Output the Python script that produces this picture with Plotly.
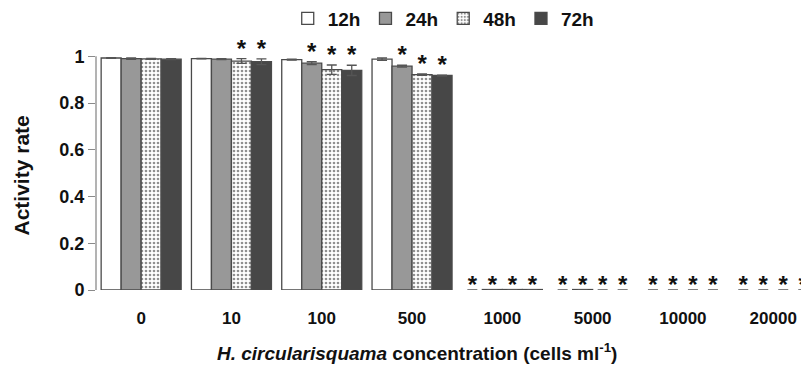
import plotly.graph_objects as go

categories = ["0", "10", "100", "500", "1000", "5000", "10000", "20000"]
series = ["12h", "24h", "48h", "72h"]

v12 = [0.993, 0.990, 0.986, 0.988, 0.0, 0.0, 0.0, 0.0]
v24 = [0.990, 0.988, 0.971, 0.958, 0.002, 0.002, 0.0, 0.0]
v48 = [0.989, 0.980, 0.943, 0.922, 0.002, 0.0, 0.0, 0.0]
v72 = [0.988, 0.977, 0.940, 0.918, 0.002, 0.0, 0.0, 0.0]

e12 = [0.002, 0.001, 0.002, 0.005, 0, 0, 0, 0]
e24 = [0.003, 0.002, 0.006, 0.004, 0, 0, 0, 0]
e48 = [0.002, 0.010, 0.020, 0.003, 0, 0, 0, 0]
e72 = [0.002, 0.012, 0.022, 0.002, 0, 0, 0, 0]

sig12 = [0, 0, 0, 0, 1, 1, 1, 1]
sig24 = [0, 0, 1, 1, 1, 1, 1, 1]
sig48 = [0, 1, 1, 1, 1, 1, 1, 1]
sig72 = [0, 1, 1, 1, 1, 1, 1, 1]

yticks = [0, 0.2, 0.4, 0.6, 0.8, 1]
ytick_labels = ["0", "0.2", "0.4", "0.6", "0.8", "1"]

values = [v12, v24, v48, v72]
errors = [e12, e24, e48, e72]
sigs = [sig12, sig24, sig48, sig72]

FONT = "Liberation Sans, Arial, sans-serif"
INK = "#111111"
fills = ["#ffffff", "#989898", "#ffffff", "#474747"]

fig = go.Figure()
for i, name in enumerate(series):
    edge = ["#4a4a4a" if v > 0 else "rgba(0,0,0,0)" for v in values[i]]
    marker = dict(color=fills[i], line=dict(color=edge, width=1.3))
    if name == "48h":
        marker["pattern"] = dict(shape=".", fgcolor="#222222", bgcolor="#ffffff",
                                 size=4, solidity=0.35)
    fig.add_trace(go.Bar(
        x=categories, y=values[i], name="<b>%s</b>" % name, offsetgroup=str(i),
        alignmentgroup="a", marker=marker, cliponaxis=False,
        error_y=dict(type="data", array=errors[i], color="#555555",
                     thickness=1.3, width=5),
    ))

for i, name in enumerate(series):
    xs, ys = [], []
    for c, v, e, s in zip(categories, values[i], errors[i], sigs[i]):
        if s:
            xs.append(c)
            ys.append(v + e + (0.035 if v > 0.5 else 0.012))
    fig.add_trace(go.Scatter(
        x=xs, y=ys, mode="text", text=["<b>*</b>"] * len(xs),
        textposition="middle center",
        offsetgroup=str(i), alignmentgroup="a", showlegend=False,
        cliponaxis=False, hoverinfo="skip",
        textfont=dict(family=FONT, size=24, color=INK),
    ))

# page body has an 8px margin, so the figure is drawn 8px in from the window corner
fig.update_layout(
    width=801, height=364,
    margin=dict(l=88, r=0, t=25, b=82, autoexpand=False),
    paper_bgcolor="white", plot_bgcolor="white",
    barmode="group", bargap=0.114, bargroupgap=0,
    scattermode="group", scattergap=0.114,
    font=dict(family=FONT, color=INK),
    showlegend=True,
    legend=dict(orientation="h", x=0.487, xanchor="center", y=1.056, yanchor="middle",
                yref="paper", font=dict(family=FONT, size=19, color=INK),
                itemwidth=30, traceorder="normal", borderwidth=0,
                bgcolor="rgba(0,0,0,0)"),
    shapes=[dict(type="line", xref="paper", yref="y", x0=0, x1=0, y0=0, y1=1,
                 line=dict(color="#8a8a8a", width=1.3))],
    annotations=[
        dict(text="<b>Activity rate</b>", textangle=-90, xref="paper", yref="paper",
             x=-0.104, y=0.445, xanchor="center", yanchor="middle", showarrow=False,
             font=dict(family=FONT, size=21, color=INK)),
        dict(text="<b><i>H. circularisquama</i> concentration (cells ml<sup>-1</sup>)</b>",
             xref="paper", yref="paper", x=0.450, y=-0.241, xanchor="center",
             yanchor="middle", showarrow=False,
             font=dict(family=FONT, size=19, color=INK)),
    ],
)
fig.update_xaxes(
    type="category", range=[-0.5, 7.396], showline=False, showgrid=False,
    automargin=False,
    ticks="outside", ticklen=13, tickcolor="rgba(0,0,0,0)",
    tickvals=categories, ticktext=["<b>%s</b>" % c for c in categories],
    tickfont=dict(family=FONT, size=17, color=INK),
)
fig.update_yaxes(
    range=[0, 1.1], tickvals=yticks, ticktext=["<b>%s</b>" % t for t in ytick_labels],
    showline=False, showgrid=False, zeroline=False, automargin=False,
    ticks="outside", ticklen=7, tickcolor="#8a8a8a", tickwidth=1.3,
    tickfont=dict(family=FONT, size=18, color=INK),
)
fig.write_html("out.html")
